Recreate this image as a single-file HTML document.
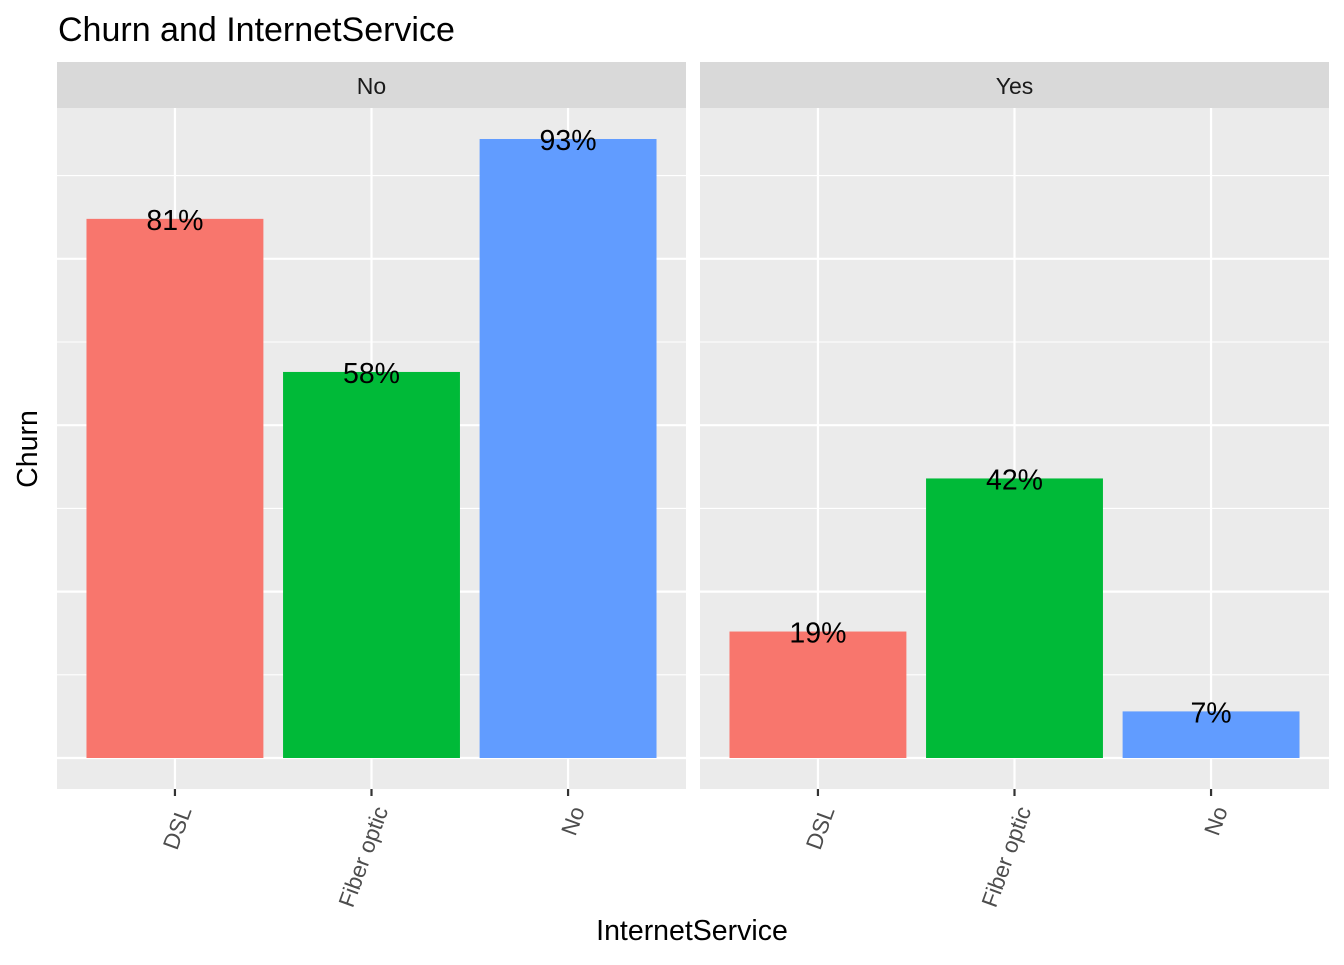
<!DOCTYPE html>
<html><head><meta charset="utf-8"><style>
body{margin:0;background:#fff;}
text{font-family:"Liberation Sans",Arial,sans-serif;}
</style></head><body>
<svg id="chart" width="1344" height="960" xmlns="http://www.w3.org/2000/svg">
<text x="58" y="41" font-size="34" fill="#000">Churn and InternetService</text>
<text transform="translate(37,449) rotate(-90)" text-anchor="middle" font-size="28.5" fill="#000">Churn</text>
<text x="692" y="940" text-anchor="middle" font-size="28.5" fill="#000">InternetService</text>
<g id="panels"></g>
</svg>
<script>
const facets = ["No", "Yes"];
const categories = ["DSL", "Fiber optic", "No"];
const valuesNo = [0.81, 0.58, 0.93];
const valuesYes = [0.19, 0.42, 0.07];
const labelsNo = ["81%", "58%", "93%"];
const labelsYes = ["19%", "42%", "7%"];
const colors = ["#F8766D", "#00BA38", "#619CFF"];

const NS = "http://www.w3.org/2000/svg";
const gp = document.getElementById("panels");
function mk(tag, attrs){const e=document.createElementNS(NS,tag);for(const k in attrs)e.setAttribute(k,attrs[k]);gp.appendChild(e);return e;}
const panelX = [57, 700], panelW = 629, panelTop = 108, panelBottom = 789;
const y0 = 758, yScale = 665.6;
const yPos = v => y0 - v * yScale;
const seriesVals = [valuesNo, valuesYes], seriesLabels = [labelsNo, labelsYes];

facets.forEach((f, pi) => {
  const px = panelX[pi];
  const unit = panelW / (categories.length + 0.2);
  const xPos = i => px + (0.6 + i) * unit;
  const strip = mk("rect", {x:px, y:62, width:panelW, height:46, fill:"#D9D9D9"});
  
  
  const st = mk("text", {x:px+panelW/2, y:94, "text-anchor":"middle", "font-size":"23", fill:"#1A1A1A"});
  st.textContent = f;
  
  
  const bg = mk("rect", {x:px, y:panelTop, width:panelW, height:panelBottom-panelTop, fill:"#EBEBEB"});
  
  
  for (let k = 0; k <= 8; k++) {
    const v = k * 0.125, yy = yPos(v);
    if (yy < panelTop) continue;
    const gl = mk("line", {x1:px, x2:px+panelW, y1:yy, y2:yy, stroke:"#fff", "stroke-width": k%2 ? 1.1 : 2.2});
    
    
  }
  categories.forEach((c, i) => {
    const gl = mk("line", {x1:xPos(i), x2:xPos(i), y1:panelTop, y2:panelBottom, stroke:"#fff", "stroke-width":2.2});
    
    
  });
  categories.forEach((c, i) => {
    const v = seriesVals[pi][i], bw = unit * 0.9;
    const b = mk("rect", {x:xPos(i)-bw/2, y:yPos(v), width:bw, height:y0-yPos(v), fill:colors[i]});
    
    
    const t = mk("text", {x:xPos(i), y:yPos(v)+11, "text-anchor":"middle", "font-size":"28.5", fill:"#000"});
    t.textContent = seriesLabels[pi][i];
    
    
    const tk = mk("line", {x1:xPos(i), x2:xPos(i), y1:panelBottom, y2:panelBottom+7, stroke:"#333", "stroke-width":2.2});
    
    
    const tl = mk("text", {transform:"translate(" + (xPos(i)+17) + "," + (panelBottom+21) + ") rotate(-70)", "text-anchor":"end", "font-size":"22.5", fill:"#4D4D4D"});
    tl.textContent = c;
    
    
  });
});
</script>
</body></html>
